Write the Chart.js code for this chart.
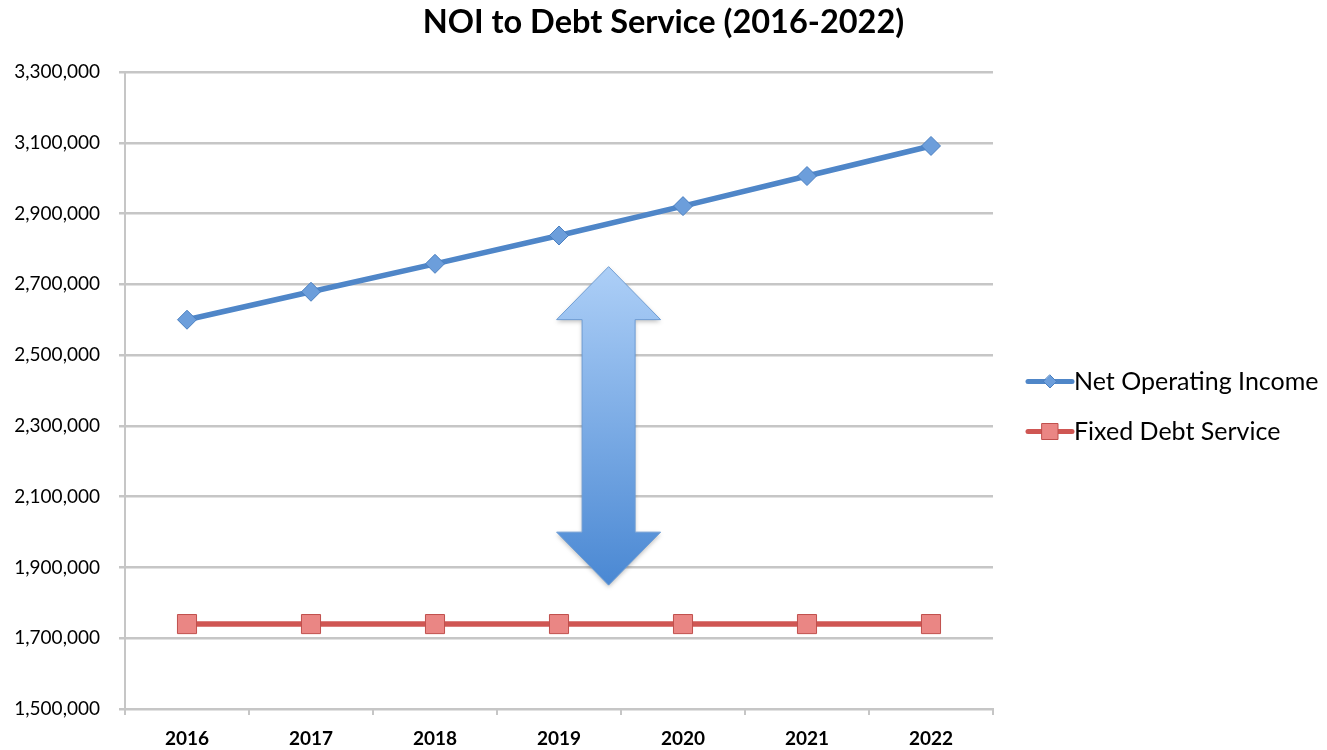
<!DOCTYPE html>
<html>
<head>
<meta charset="utf-8">
<script src="https://cdn.jsdelivr.net/npm/chart.js@4"></script>
<style>
  html, body { margin: 0; padding: 0; background: #fff; }
  #wrap { width: 1327px; height: 750px; }
</style>
</head>
<body>
<div id="wrap"><canvas id="noiChart" width="1327" height="750"></canvas></div>
<script>
// chart data
const years = ['2016', '2017', '2018', '2019', '2020', '2021', '2022'];
const netOperatingIncome = [2600000, 2679000, 2758000, 2838000, 2921000, 3006000, 3091000];
const fixedDebtService = [1740000, 1740000, 1740000, 1740000, 1740000, 1740000, 1740000];
const seriesNames = ['Net Operating Income', 'Fixed Debt Service'];
const yMin = 1500000;
const yMax = 3300000;
const yStep = 200000;
// the gap arrow sits between 2019 and 2020, spanning these values
const arrowAt = 3.4;
const arrowTop = 2750000;
const arrowBottom = 1850000;

const FONT = 'Lato, "Open Sans", sans-serif';
const GRID = '#c6c6c6';
const BLUE = '#4f86c8';
const RED = '#cf5653';

// double headed gradient arrow drawn from scale values
const gapArrow = {
  id: 'gapArrow',
  beforeDatasetsDraw(chart) {
    const { ctx, scales } = chart;
    const cx = scales.x.getPixelForValue(arrowAt);
    const top = scales.y.getPixelForValue(arrowTop);
    const bottom = scales.y.getPixelForValue(arrowBottom);
    const headW = 52, shaftW = 26.5, headH = 53;
    ctx.save();
    const grad = ctx.createLinearGradient(0, top, 0, bottom);
    grad.addColorStop(0, '#adcff7');
    grad.addColorStop(1, '#4a88d3');
    ctx.beginPath();
    ctx.moveTo(cx, top);
    ctx.lineTo(cx + headW, top + headH);
    ctx.lineTo(cx + shaftW, top + headH);
    ctx.lineTo(cx + shaftW, bottom - headH);
    ctx.lineTo(cx + headW, bottom - headH);
    ctx.lineTo(cx, bottom);
    ctx.lineTo(cx - headW, bottom - headH);
    ctx.lineTo(cx - shaftW, bottom - headH);
    ctx.lineTo(cx - shaftW, top + headH);
    ctx.lineTo(cx - headW, top + headH);
    ctx.closePath();
    ctx.shadowColor = 'rgba(0,0,0,0.25)';
    ctx.shadowBlur = 4;
    ctx.shadowOffsetY = 2;
    ctx.fillStyle = grad;
    ctx.fill();
    ctx.shadowColor = 'transparent';
    ctx.strokeStyle = '#6e9dd4';
    ctx.lineWidth = 1;
    ctx.stroke();
    ctx.restore();
  }
};

// legend on the right, line + marker like the spreadsheet one
const sideLegend = {
  id: 'sideLegend',
  afterDraw(chart) {
    const { ctx, chartArea } = chart;
    const x0 = chartArea.right + 35;
    const midY = (chartArea.top + chartArea.bottom) / 2;
    ctx.save();
    chart.data.datasets.forEach((ds, i) => {
      const y = midY - 9 + i * 50;
      ctx.strokeStyle = ds.borderColor;
      ctx.lineWidth = 5;
      ctx.lineCap = 'round';
      ctx.beginPath();
      ctx.moveTo(x0, y);
      ctx.lineTo(x0 + 44, y);
      ctx.stroke();
      const mx = x0 + 22;
      ctx.fillStyle = ds.pointBackgroundColor;
      ctx.strokeStyle = ds.pointBorderColor;
      ctx.lineWidth = 1;
      ctx.beginPath();
      if (ds.pointStyle === 'rectRot') {
        ctx.moveTo(mx, y - 6.5);
        ctx.lineTo(mx + 6.5, y);
        ctx.lineTo(mx, y + 6.5);
        ctx.lineTo(mx - 6.5, y);
        ctx.closePath();
      } else {
        ctx.rect(mx - 8, y - 8, 16, 16);
      }
      ctx.fill();
      ctx.stroke();
      ctx.fillStyle = '#000';
      ctx.font = '25px ' + FONT;
      ctx.textBaseline = 'middle';
      ctx.fillText(ds.label, x0 + 46, y);
    });
    ctx.restore();
  }
};

new Chart(document.getElementById('noiChart'), {
  type: 'line',
  data: {
    labels: years,
    datasets: [
      {
        label: seriesNames[0],
        data: netOperatingIncome,
        borderColor: BLUE,
        borderWidth: 5.5,
        pointStyle: 'rectRot',
        pointRadius: 9.5,
        pointBackgroundColor: '#6c9edb',
        pointBorderColor: '#4a7fc0',
        pointBorderWidth: 1,
        tension: 0
      },
      {
        label: seriesNames[1],
        data: fixedDebtService,
        borderColor: RED,
        borderWidth: 5.5,
        pointStyle: 'rect',
        pointRadius: 13.5,
        pointBackgroundColor: '#ea8684',
        pointBorderColor: '#c0504d',
        pointBorderWidth: 1,
        tension: 0
      }
    ]
  },
  options: {
    responsive: false,
    animation: false,
    layout: { padding: { left: 0, right: 0, top: 0, bottom: 0 } },
    plugins: {
      legend: { display: false },
      tooltip: { enabled: false },
      title: {
        display: true,
        text: 'NOI to Debt Service (2016-2022)',
        color: '#000',
        font: { family: FONT, size: 32.5, weight: 'bold' },
        padding: { top: 3, bottom: 30 }
      }
    },
    scales: {
      x: {
        offset: true,
        afterFit(scale) { scale.height = 41; },
        grid: {
          offset: true,
          drawOnChartArea: false,
          drawTicks: true,
          tickLength: 6,
          color: GRID,
          lineWidth: 2
        },
        border: { display: true, color: GRID, width: 2 },
        ticks: {
          color: '#000',
          padding: 12,
          font: { family: FONT, size: 19, weight: 'bold' }
        }
      },
      y: {
        min: yMin,
        max: yMax,
        afterFit(scale) { scale.width = 125; },
        grid: { color: GRID, lineWidth: 2.5, tickLength: 6 },
        border: { display: true, color: GRID, width: 2 },
        ticks: {
          stepSize: yStep,
          color: '#000',
          padding: 19,
          font: { family: FONT, size: 19 },
          callback: v => v.toLocaleString('en-US')
        }
      },
      // empty right axis only reserves the room the legend sits in
      yRoom: {
        position: 'right',
        display: true,
        grid: { display: false },
        border: { display: false },
        ticks: { display: false },
        afterFit(scale) { scale.width = 334; }
      }
    }
  },
  plugins: [gapArrow, sideLegend]
});
</script>
</body>
</html>
